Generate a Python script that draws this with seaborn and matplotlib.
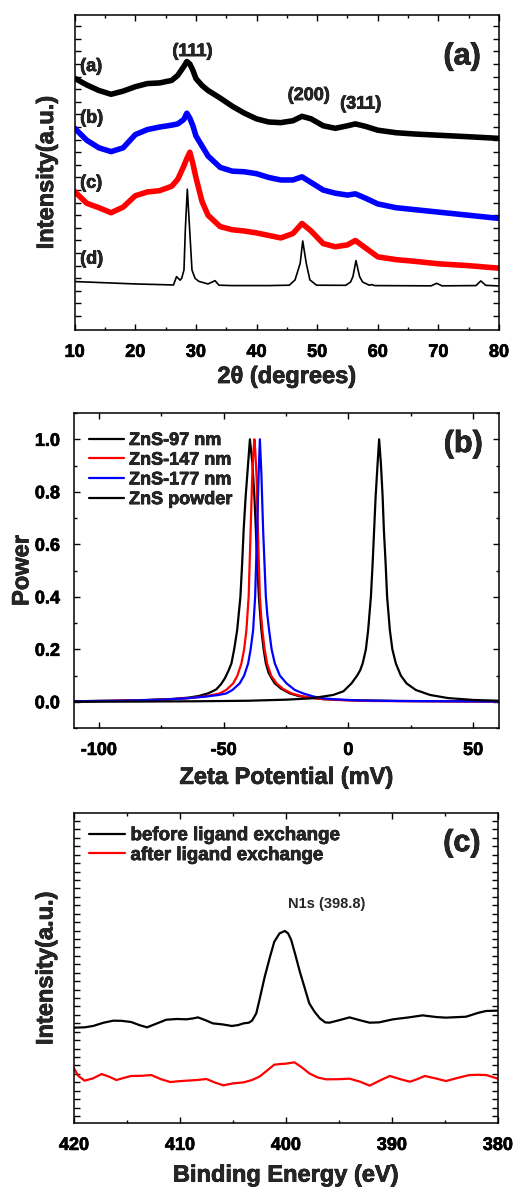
import numpy as np
import pandas as pd
import matplotlib
matplotlib.use("Agg")
import matplotlib.pyplot as plt
import matplotlib.patheffects as pe
from matplotlib.ticker import MultipleLocator, NullFormatter
import seaborn as sns

# ---------------- panel (a): XRD patterns ----------------
xrd_2theta = [10, 12, 14, 16, 18, 20, 22, 24, 26, 27, 28, 28.5, 29, 29.5, 30, 31, 32, 34, 36, 38,
              40, 42, 44, 46, 47.5, 49, 51, 53, 55, 56.3, 58, 60, 63, 66, 70, 75, 80]
xrd_a = [19.97, 19.44, 19.0, 18.7, 18.95, 19.3, 19.55, 19.6, 19.8, 20.2, 20.9, 21.3, 21.1, 20.6, 19.95,
         19.4, 19.0, 18.4, 17.75, 17.2, 16.75, 16.5, 16.45, 16.6, 16.95, 16.75, 16.2, 16.0, 16.2, 16.35,
         16.15, 15.85, 15.65, 15.55, 15.45, 15.33, 15.2]
xrd_b = [16.0, 15.05, 14.45, 14.15, 14.45, 15.5, 15.9, 16.1, 16.25, 16.35, 16.7, 17.2, 16.8, 16.2, 15.4,
         14.6, 13.8, 12.9, 12.6, 12.55, 12.4, 12.1, 11.9, 11.9, 12.15, 11.7, 11.1, 10.85, 10.7, 10.8,
         10.45, 10.0, 9.7, 9.55, 9.35, 9.1, 8.85]
xrd_c = [10.98, 10.05, 9.7, 9.3, 9.75, 10.65, 10.95, 11.05, 11.4, 11.95, 13.0, 13.6, 14.1, 13.2, 12.1,
         10.2, 9.1, 8.2, 7.95, 7.85, 7.7, 7.5, 7.3, 7.65, 8.45, 7.85, 6.85, 6.6, 6.75, 7.1,
         6.5, 5.8, 5.58, 5.45, 5.25, 5.1, 4.9]
# bulk ZnS powder (d)
xrd_d_2theta = [10, 20, 26.3, 26.8, 27.4, 27.65, 28.03, 28.25, 28.58, 28.97, 29.35, 29.85, 30.5, 32.0,
                33.15, 33.8, 36, 42, 45.4, 46.35, 47.2, 47.62, 48.2, 48.8, 49.9, 54.7, 55.5, 55.9,
                56.4, 57.0, 57.5, 58.6, 59.0, 59.5, 68.8, 69.7, 70.6, 76.2, 77.0, 77.8, 80]
xrd_d = [3.84, 3.65, 3.57, 4.23, 3.95, 4.1, 4.76, 7.94, 11.17, 7.94, 4.76, 4.1, 3.85, 3.65,
         3.91, 3.55, 3.52, 3.52, 3.55, 3.97, 5.29, 7.06, 5.29, 3.97, 3.55, 3.54, 3.8, 4.23,
         5.5, 4.23, 3.8, 3.55, 3.6, 3.52, 3.5, 3.7, 3.5, 3.52, 3.89, 3.54, 3.49]
xrd_labels = ['(a)', '(b)', '(c)', '(d)']
xrd_label_y = [20.9, 16.8, 11.64, 5.62]
hkl = ['(111)', '(200)', '(311)']
hkl_pos = [(29.4, 22.09), (48.6, 18.6), (57.15, 17.92)]

# ---------------- panel (b): zeta potential ----------------
zeta_97_x = [-110, -95, -80, -70, -64, -60, -56, -53, -51, -49.5, -48, -46.9, -45.8, -44.6, -43.3,
             -42.6, -42.0, -41.2, -40.2, -39.5, -38.5, -37.7, -37.1, -36.6, -35.9, -34.9, -34.0,
             -33.1, -32.0, -30.5, -29.5, -27, -23.5, -20, -15, -10, 0, 20, 40, 60]
zeta_97_y = [0.002, 0.004, 0.007, 0.011, 0.016, 0.022, 0.033, 0.047, 0.068, 0.09, 0.12, 0.146, 0.2,
             0.273, 0.40, 0.528, 0.655, 0.782, 0.909, 1.0, 0.909, 0.782, 0.655, 0.528, 0.40, 0.273,
             0.2, 0.146, 0.11, 0.085, 0.07, 0.05, 0.032, 0.022, 0.015, 0.01, 0.006, 0.003, 0.002, 0.001]
zeta_147_x = [-110, -90, -75, -65, -58, -54, -51.6, -49, -46.2, -44.5, -42.9, -41.8, -40.9, -40.0,
              -39.2, -38.6, -38.1, -37.7, -37.3, -36.8, -36.3, -35.5, -35.0, -34.5, -33.6, -32.6,
              -31, -28.8, -26, -22.8, -19, -15, -10, -5, 10, 30, 60]
zeta_147_y = [0.002, 0.004, 0.008, 0.013, 0.02, 0.027, 0.032, 0.045, 0.07, 0.1, 0.146, 0.2, 0.273,
              0.40, 0.655, 0.85, 0.95, 1.0, 0.95, 0.85, 0.655, 0.40, 0.33, 0.273, 0.2, 0.146,
              0.1, 0.07, 0.048, 0.032, 0.022, 0.015, 0.01, 0.007, 0.003, 0.002, 0.001]
zeta_177_x = [-110, -90, -75, -65, -57, -52, -48.9, -46.5, -43.6, -41.8, -40.2, -39.2, -38.2, -37.4,
              -36.6, -36.0, -35.5, -34.9, -34.2, -33.1, -32.5, -31.8, -30.8, -29.5, -27.5, -24.8,
              -21.5, -18.2, -14, -10, -5, 5, 20, 40, 60]
zeta_177_y = [0.002, 0.004, 0.008, 0.013, 0.02, 0.026, 0.032, 0.045, 0.07, 0.1, 0.146, 0.2, 0.273,
              0.40, 0.655, 0.87, 1.0, 0.87, 0.655, 0.40, 0.33, 0.273, 0.2, 0.146, 0.1, 0.07,
              0.045, 0.032, 0.02, 0.013, 0.009, 0.005, 0.003, 0.002, 0.001]
zeta_powder_x = [-110, -80, -60, -40, -25, -15, -6.1, -2, 1.2, 3.5, 4.7, 5.7, 7.0, 7.9, 9.0, 9.7,
                 10.3, 10.9, 11.7, 12.3, 13.0, 13.7, 14.2, 14.9, 15.5, 16.6, 17.6, 19.0, 21, 23.3,
                 27, 32.7, 40, 50, 60]
zeta_powder_y = [0.0, 0.001, 0.002, 0.004, 0.008, 0.013, 0.026, 0.04, 0.07, 0.1, 0.12, 0.146, 0.2,
                 0.273, 0.40, 0.528, 0.655, 0.782, 0.909, 1.0, 0.909, 0.782, 0.655, 0.528, 0.40,
                 0.273, 0.2, 0.146, 0.1, 0.07, 0.045, 0.026, 0.014, 0.007, 0.004]
zeta_names = ['ZnS-97 nm', 'ZnS-147 nm', 'ZnS-177 nm', 'ZnS powder']

# ---------------- panel (c): XPS N1s ----------------
xps_before_x = [420.0, 419.0, 418.2, 417.2, 416.3, 415.5, 414.6, 413.8, 413.1, 412.2, 411.3, 410.3,
                409.4, 408.8, 408.3, 407.6, 406.9, 406.0, 405.1, 404.5, 404.0, 403.5, 403.2, 402.8,
                402.5, 402.0, 401.5, 401.1, 400.6, 400.1, 399.8, 399.5, 399.1, 398.7, 398.2, 397.8,
                397.3, 396.8, 396.3, 395.9, 394.9, 394.0, 393.1, 392.1, 391.2, 389.9, 388.4, 387.1,
                385.8, 384.9, 383.0, 381.8, 381.1, 380.0]
xps_before_y = [11.31, 11.35, 11.51, 11.9, 12.14, 12.12, 11.98, 11.6, 11.35, 11.8, 12.25, 12.34,
                12.30, 12.4, 12.53, 12.2, 11.82, 11.7, 11.51, 11.62, 11.82, 11.9, 12.14, 13.0,
                14.59, 17.36, 19.73, 21.5, 22.50, 22.78, 22.5, 21.71, 19.9, 18.0, 15.9, 14.20,
                13.2, 12.42, 11.94, 11.90, 12.22, 12.53, 12.22, 11.90, 11.94, 12.30, 12.53, 12.77,
                12.57, 12.50, 12.61, 13.09, 13.29, 13.33]
xps_after_x = [420.0, 419.6, 419.0, 418.2, 417.4, 416.7, 416.0, 415.3, 414.6, 413.6, 412.7, 411.8,
               410.9, 410.2, 409.4, 408.4, 407.5, 406.7, 405.9, 405.0, 404.0, 403.2, 402.5, 401.8,
               401.1, 400.5, 400.0, 399.2, 398.5, 397.8, 397.0, 396.2, 395.0, 394.0, 393.0, 392.1,
               391.2, 390.2, 389.2, 388.3, 387.6, 386.9, 385.9, 384.9, 383.8, 382.7, 381.8, 381.1,
               380.0]
xps_after_y = [6.48, 5.6, 5.02, 5.3, 5.81, 5.5, 5.10, 5.35, 5.58, 5.6, 5.69, 5.2, 4.86, 4.95, 5.02,
               5.1, 5.22, 4.8, 4.47, 4.7, 4.82, 5.1, 5.50, 6.2, 6.92, 7.0, 7.04, 7.20, 6.6, 5.89,
               5.4, 5.18, 5.2, 5.26, 4.9, 4.43, 5.0, 5.58, 5.2, 4.90, 5.2, 5.58, 5.3, 4.98, 5.35,
               5.69, 5.72, 5.69, 5.26]
xps_names = ['before ligand exchange', 'after ligand exchange']

# ---------------- style ----------------
sns.set_style('ticks')
plt.rcParams['font.family'] = ['Liberation Sans', 'DejaVu Sans']
plt.rcParams['font.weight'] = 'bold'
plt.rcParams['axes.labelweight'] = 'bold'
plt.rcParams['axes.linewidth'] = 1.1
plt.rcParams['axes.edgecolor'] = 'black'
plt.rcParams['axes.unicode_minus'] = False

TICK = 13
LABEL = 17
HEAVY = [pe.withStroke(linewidth=0.5, foreground='black')]


def style_axes(ax):
    ax.tick_params(which='both', direction='in', top=True, right=True, width=1.0,
                   labelsize=TICK, colors='black', pad=10)
    ax.tick_params(which='major', length=4)
    ax.tick_params(which='minor', length=2.5)
    for lab in ax.get_xticklabels() + ax.get_yticklabels():
        lab.set_fontweight('bold')
        lab.set_path_effects(HEAVY)
    ax.xaxis.label.set_path_effects(HEAVY)
    ax.yaxis.label.set_path_effects(HEAVY)


fig = plt.figure(figsize=(5.15, 11.89), dpi=100)

# panel (a)
ax1 = fig.add_axes([0.145, 0.7225, 0.824, 0.2652])
for ys, col in zip([xrd_a, xrd_b, xrd_c], ['black', 'blue', 'red']):
    sns.lineplot(x=xrd_2theta, y=ys, color=col, lw=4, estimator=None, ax=ax1)
sns.lineplot(x=xrd_d_2theta, y=xrd_d, color='black', lw=1.2, estimator=None, ax=ax1)
ax1.set_xlim(10, 80)
ax1.set_ylim(0, 25.02)
ax1.xaxis.set_major_locator(MultipleLocator(10))
ax1.xaxis.set_minor_locator(MultipleLocator(5))
ax1.set_yticks(np.arange(1.11, 25, 1.0))
ax1.yaxis.set_major_formatter(NullFormatter())
ax1.set_xlabel('2θ (degrees)', fontsize=LABEL, fontweight='bold', labelpad=3)
ax1.set_ylabel('Intensity(a.u.)', fontsize=LABEL, fontweight='bold', labelpad=2)
for lab, yy in zip(xrd_labels, xrd_label_y):
    ax1.text(10.9, yy, lab, fontsize=13, fontweight='bold', ha='left', va='center',
             path_effects=HEAVY)
for lab, (xx, yy) in zip(hkl, hkl_pos):
    ax1.text(xx, yy, lab, fontsize=13, fontweight='bold', ha='center', va='center',
             path_effects=HEAVY)
ax1.text(73.9, 21.7, '(a)', fontsize=22, fontweight='bold', ha='center', va='center',
         path_effects=HEAVY)
style_axes(ax1)

# panel (b)
ax2 = fig.add_axes([0.1437, 0.3877, 0.825, 0.2649])
zeta = [(zeta_97_x, zeta_97_y, 'black'), (zeta_147_x, zeta_147_y, 'red'),
        (zeta_177_x, zeta_177_y, 'blue'), (zeta_powder_x, zeta_powder_y, 'black')]
for (xs, ys, col), name in zip(zeta, zeta_names):
    sns.lineplot(x=xs, y=ys, color=col, lw=1.6, estimator=None, label=name, ax=ax2)
ax2.set_xlim(-110, 60.3)
ax2.set_ylim(-0.1, 1.1)
ax2.xaxis.set_major_locator(MultipleLocator(50))
ax2.xaxis.set_minor_locator(MultipleLocator(25))
ax2.yaxis.set_major_locator(MultipleLocator(0.2))
ax2.yaxis.set_minor_locator(MultipleLocator(0.1))
ax2.yaxis.set_major_formatter(lambda v, p: f'{v:.1f}')
ax2.set_xlabel('Zeta Potential (mV)', fontsize=LABEL, fontweight='bold', labelpad=5)
ax2.set_ylabel('Power', fontsize=LABEL, fontweight='bold', labelpad=1)
leg2 = ax2.legend(loc='upper left', bbox_to_anchor=(0.036, 0.94), frameon=False, borderpad=0,
                  borderaxespad=0, handlelength=1.9, handletextpad=0.3, labelspacing=0.15,
                  prop={'size': 13, 'weight': 'bold'})
for t in leg2.get_texts():
    t.set_path_effects(HEAVY)
ax2.text(46.0, 0.982, '(b)', fontsize=22, fontweight='bold', ha='center', va='center',
         path_effects=HEAVY)
style_axes(ax2)

# panel (c)
ax3 = fig.add_axes([0.1437, 0.0555, 0.823, 0.2607])
sns.lineplot(x=xps_before_x, y=xps_before_y, color='black', lw=1.6, estimator=None,
             sort=False, label=xps_names[0], ax=ax3)
sns.lineplot(x=xps_after_x, y=xps_after_y, color='red', lw=1.6, estimator=None,
             sort=False, label=xps_names[1], ax=ax3)
ax3.set_xlim(420, 380)
ax3.set_ylim(0, 36.77)
ax3.xaxis.set_major_locator(MultipleLocator(10))
ax3.xaxis.set_minor_locator(MultipleLocator(5))
ax3.set_yticks(np.arange(0.83, 36.7, 1.0))
ax3.yaxis.set_major_formatter(NullFormatter())
ax3.set_xlabel('Binding Energy (eV)', fontsize=LABEL, fontweight='bold', labelpad=7)
ax3.set_ylabel('Intensity(a.u.)', fontsize=LABEL, fontweight='bold', labelpad=2)
leg3 = ax3.legend(loc='upper left', bbox_to_anchor=(0.036, 0.955), frameon=False, borderpad=0,
                  borderaxespad=0, handlelength=1.9, handletextpad=0.3, labelspacing=0.15,
                  prop={'size': 13.5, 'weight': 'bold'})
for t in leg3.get_texts():
    t.set_path_effects(HEAVY)
ax3.text(396.2, 25.96, 'N1s (398.8)', fontsize=10.5, fontweight='bold', ha='center', va='center')
ax3.text(383.4, 33.2, '(c)', fontsize=22, fontweight='bold', ha='center', va='center',
         path_effects=HEAVY)
style_axes(ax3)

fig.savefig('out.png', dpi=100)
